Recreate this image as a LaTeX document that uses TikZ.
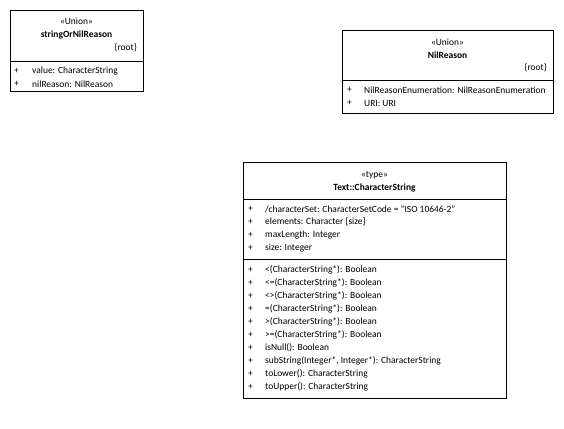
\documentclass[tikz,border=0pt]{standalone}
\usepackage{fontspec}
\setmainfont{Carlito}
\begin{document}
\begin{tikzpicture}[x=1bp,y=-1bp,
  box/.style={draw=black,line width=0.8bp,fill=white},
  sep/.style={draw=black,line width=0.8bp},
  fnt/.style={font=\fontsize{9.5}{11}\selectfont},
  txt/.style={inner sep=0pt,fnt,anchor=west},
  ctr/.style={inner sep=0pt,fnt,anchor=center},
  rgt/.style={inner sep=0pt,fnt,anchor=east},
  bld/.style={inner sep=0pt,font=\fontsize{9.5}{11}\selectfont\bfseries,anchor=center}]
\useasboundingbox (0,0) rectangle (564,428);
% Box 1
\path[box] (10,10) rectangle (143,91);
\coordinate (a1) at (10,61); \coordinate (a2) at (143,61);
\draw[sep] (a1) -- (a2);
\node[ctr] (s1) at (76.5,21) {«Union»};
\node[bld] (n1) at (76.5,35) {stringOrNilReason};
\node[rgt] (r1) at (137,48) {\{root\}};
\node[txt] (p11) at (14,71) {+};
\node[txt] (t11) at (32,71) {value: CharacterString};
\node[txt] (p12) at (14,84) {+};
\node[txt] (t12) at (32,84) {nilReason: NilReason};
% Box 2
\path[box] (342,30) rectangle (553,113);
\coordinate (b1) at (342,80); \coordinate (b2) at (553,80);
\draw[sep] (b1) -- (b2);
\node[ctr] (s2) at (447.5,42) {«Union»};
\node[bld] (n2) at (447.5,55) {NilReason};
\node[rgt] (r2) at (547,68) {\{root\}};
\node[txt] (p21) at (347,90) {+};
\node[txt] (t21) at (364,90) {NilReasonEnumeration: NilReasonEnumeration};
\node[txt] (p22) at (347,103) {+};
\node[txt] (t22) at (364,103) {URI: URI};
% Box 3
\path[box] (243,162) rectangle (506,398);
\coordinate (c1) at (243,199); \coordinate (c2) at (506,199);
\coordinate (c3) at (243,259); \coordinate (c4) at (506,259);
\draw[sep] (c1) -- (c2);
\draw[sep] (c3) -- (c4);
\node[ctr] (s3) at (374.5,175) {«type»};
\node[bld] (n3) at (374.5,188) {Text::CharacterString};
\node[txt] (pa1) at (248,209) {+};
\node[txt] (ta1) at (265,209) {/characterSet: CharacterSetCode = "ISO 10646-2"};
\node[txt] (pa2) at (248,222) {+};
\node[txt] (ta2) at (265,222) {elements: Character [size]};
\node[txt] (pa3) at (248,235) {+};
\node[txt] (ta3) at (265,235) {maxLength: Integer};
\node[txt] (pa4) at (248,248) {+};
\node[txt] (ta4) at (265,248) {size: Integer};
\node[txt] (po1) at (248,270) {+};
\node[txt] (to1) at (265,270) {<(CharacterString*): Boolean};
\node[txt] (po2) at (248,283) {+};
\node[txt] (to2) at (265,283) {<=(CharacterString*): Boolean};
\node[txt] (po3) at (248,296) {+};
\node[txt] (to3) at (265,296) {<>(CharacterString*): Boolean};
\node[txt] (po4) at (248,309) {+};
\node[txt] (to4) at (265,309) {=(CharacterString*): Boolean};
\node[txt] (po5) at (248,322) {+};
\node[txt] (to5) at (265,322) {>(CharacterString*): Boolean};
\node[txt] (po6) at (248,335) {+};
\node[txt] (to6) at (265,335) {>=(CharacterString*): Boolean};
\node[txt] (po7) at (248,348) {+};
\node[txt] (to7) at (265,348) {isNull(): Boolean};
\node[txt] (po8) at (248,361) {+};
\node[txt] (to8) at (265,361) {subString(Integer*, Integer*): CharacterString};
\node[txt] (po9) at (248,374) {+};
\node[txt] (to9) at (265,374) {toLower(): CharacterString};
\node[txt] (po10) at (248,387) {+};
\node[txt] (to10) at (265,387) {toUpper(): CharacterString};
\end{tikzpicture}
\end{document}
